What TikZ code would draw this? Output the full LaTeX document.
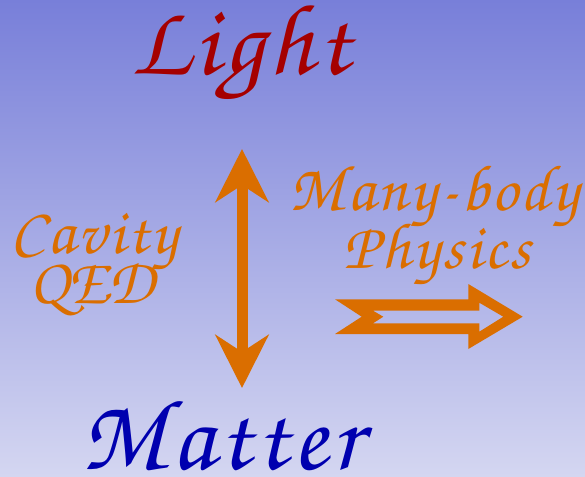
\documentclass[tikz,border=0pt]{standalone}
\usepackage[T1]{fontenc}
\usepackage{tikz}
\usetikzlibrary{arrows.meta, positioning}
\definecolor{bgtop}{RGB}{120, 127, 217}
\definecolor{bgbottom}{RGB}{212, 214, 241}
\definecolor{lightred}{RGB}{165, 0, 0}
\definecolor{matterblue}{RGB}{0, 0, 175}
\definecolor{qedorange}{RGB}{218, 110, 0}
\newcommand{\chancery}{\fontfamily{pzc}\fontseries{mb}\fontshape{it}\selectfont}
% a little extra room between the letters
\makeatletter
\newcommand{\spreadout}[1]{\@tfor\sp@char:=#1\do{\sp@char\kern0.045em}\unkern}
\makeatother
\tikzset{
  title/.style={
    anchor=base,
    inner sep=0pt,
    font=\chancery\fontsize{76}{84}\selectfont
  },
  label/.style={
    anchor=base,
    inner sep=0pt,
    text=qedorange,
    font=\chancery\fontsize{49}{56}\selectfont
  },
  coupling/.style={
    draw=qedorange,
    line width=8.25pt,
    {Stealth[length=39.75pt, width=39.75pt, inset=12.75pt]}-{Stealth[length=39.75pt, width=39.75pt, inset=12.75pt]}
  },
  hollow/.style={
    fill=qedorange,
    even odd rule
  }
}

\begin{document}
\begin{tikzpicture}[x=0.75pt, y=-0.75pt]
  \shade[top color=bgtop, bottom color=bgbottom] (0,0) rectangle (585,476);
  \useasboundingbox (0,0) rectangle (585,476);

  \node[title, text=lightred] (light) at (241,74) {\spreadout{Light}};
  \node[title, text=matterblue] (matter) at (222,469) {\spreadout{Matter}};

  \node[label] (cavity) at (94,253) {\spreadout{Cavity}};
  \node[label] (qed) at (92,303) {QED};
  \node[label] (manybody) at (434,210) {\spreadout{Many-body}};
  \node[label] (physics) at (437,268) {\spreadout{Physics}};

  % light-matter coupling
  \coordinate (vtop) at (242,149);
  \coordinate (vbot) at (242,388);
  \draw[coupling] (vtop) -- (vbot);

  % towards many-body physics
  \fill[hollow]
    (335,299.3) -- (468.3,299.3) -- (468.3,284) -- (522.7,316.7) -- (468.3,349)
      -- (468.3,334) -- (335,334) -- (361.7,316.7) -- cycle
    (373,310.7) -- (479.3,310.7) -- (479.3,302.7) -- (503.3,316.7) -- (479.3,331.7)
      -- (479.3,323.3) -- (373,323.3) -- (383.3,316.7) -- cycle;
\end{tikzpicture}
\end{document}
